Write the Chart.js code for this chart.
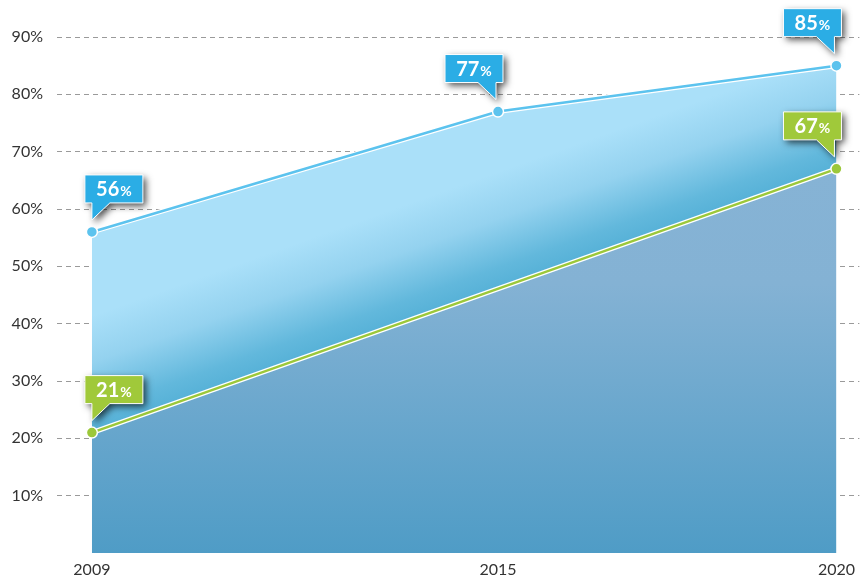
<!DOCTYPE html>
<html>
<head>
<meta charset="utf-8">
<script src="https://cdn.jsdelivr.net/npm/chart.js@4/dist/chart.umd.min.js"></script>
<style>
  html, body { margin: 0; padding: 0; background: #fff; }
  #wrap { width: 862px; height: 579px; position: relative; }
</style>
</head>
<body>
<div id="wrap"><canvas id="chart"></canvas></div>
<script>
// dữ liệu
const upperYears = [2009, 2015, 2020];
const upperValues = [56, 77, 85];
const lowerYears = [2009, 2020];
const lowerValues = [21, 67];
const xTickValues = [2009, 2015, 2020];
const yTickValues = [10, 20, 30, 40, 50, 60, 70, 80, 90];

const BLUE_LINE = '#5cc3ee';
const GREEN_LINE = '#9cc83a';
const BLUE_BOX = '#2badE5';
const GREEN_BOX = '#a0c93a';

const toPoints = (xs, ys) => xs.map((x, i) => ({ x: x, y: ys[i] }));

// gradient vùng trên: vuông góc với đường xanh lá
const upperFill = (context) => {
    const chart = context.chart;
    if (!chart.chartArea) return '#a9dff9';
    const sx = chart.scales.x, sy = chart.scales.y;
    const x0 = sx.getPixelForValue(lowerYears[0]), y0 = sy.getPixelForValue(lowerValues[0]);
    const x1 = sx.getPixelForValue(lowerYears[1]), y1 = sy.getPixelForValue(lowerValues[1]);
    const dx = x1 - x0, dy = y1 - y0;
    const len = Math.sqrt(dx * dx + dy * dy);
    let nx = dy / len, ny = -dx / len;
    if (ny > 0) { nx = -nx; ny = -ny; }
    const mx = (x0 + x1) / 2, my = (y0 + y1) / 2;
    const L = 110;
    const g = chart.ctx.createLinearGradient(mx, my, mx + nx * L, my + ny * L);
    g.addColorStop(0, '#56b1d7');
    g.addColorStop(0.18, '#62b8dc');
    g.addColorStop(0.6, '#94d2ef');
    g.addColorStop(1, '#aae0f9');
    return g;
};

// gradient vùng dưới: theo chiều dọc
const lowerFill = (context) => {
    const chart = context.chart;
    const area = chart.chartArea;
    if (!area) return '#80b1d3';
    const top = chart.scales.y.getPixelForValue(lowerValues[1]);
    const g = chart.ctx.createLinearGradient(0, top, 0, area.bottom);
    g.addColorStop(0, '#86b3d5');
    g.addColorStop(0.3, '#84b2d4');
    g.addColorStop(1, '#4f9cc6');
    return g;
};

// viền trắng dưới mỗi đường
const outlinePlugin = {
    id: 'outline',
    beforeDatasetDraw(chart, args) {
        const pts = args.meta.data;
        if (!pts.length) return;
        const ctx = chart.ctx;
        ctx.save();
        ctx.beginPath();
        ctx.moveTo(pts[0].x, pts[0].y);
        for (let i = 1; i < pts.length; i++) ctx.lineTo(pts[i].x, pts[i].y);
        ctx.strokeStyle = '#ffffff';
        ctx.lineWidth = 5;
        ctx.lineJoin = 'round';
        ctx.stroke();
        ctx.restore();
    }
};

const drawCallout = (ctx, px, py, value, color, side) => {
    const w = 58, h = 28;
    const bottom = py - 29, top = bottom - h;
    const tip = py - 12;
    const left = side === 'left' ? px - 7 : px + 5 - w;
    ctx.save();
    ctx.beginPath();
    if (side === 'left') {
        ctx.moveTo(left, top);
        ctx.lineTo(left + w, top);
        ctx.lineTo(left + w, bottom);
        ctx.lineTo(px + 18, bottom);
        ctx.lineTo(px, tip);
        ctx.lineTo(px, bottom);
        ctx.lineTo(left, bottom);
    } else {
        const edge = px - 2;
        ctx.moveTo(left, top);
        ctx.lineTo(left + w, top);
        ctx.lineTo(left + w, bottom);
        ctx.lineTo(edge, bottom);
        ctx.lineTo(edge, tip);
        ctx.lineTo(edge - 18, bottom);
        ctx.lineTo(left, bottom);
    }
    ctx.closePath();
    ctx.shadowColor = 'rgba(0,0,0,0.7)';
    ctx.shadowBlur = 7;
    ctx.shadowOffsetX = 3;
    ctx.shadowOffsetY = 3;
    ctx.fillStyle = color;
    ctx.fill();
    ctx.shadowColor = 'transparent';
    ctx.strokeStyle = '#ffffff';
    ctx.lineWidth = 1;
    ctx.stroke();

    const num = String(value);
    ctx.fillStyle = '#ffffff';
    ctx.textBaseline = 'alphabetic';
    ctx.font = 'bold 20px Lato';
    const wNum = ctx.measureText(num).width;
    ctx.font = 'bold 14px Lato';
    const wPct = ctx.measureText('%').width;
    const startX = left + (w - wNum - wPct - 1) / 2;
    const base = bottom - 7;
    ctx.font = 'bold 20px Lato';
    ctx.fillText(num, startX, base);
    ctx.font = 'bold 14px Lato';
    ctx.fillText('%', startX + wNum + 1, base);
    ctx.restore();
};

const calloutPlugin = {
    id: 'callouts',
    afterDatasetsDraw(chart) {
        const ctx = chart.ctx;
        chart.data.datasets.forEach((ds, i) => {
            const meta = chart.getDatasetMeta(i);
            meta.data.forEach((pt, j) => {
                const side = ds.data[j].x === xTickValues[0] ? 'left' : 'right';
                drawCallout(ctx, pt.x, pt.y, ds.data[j].y, ds.calloutColor, side);
            });
        });
    }
};

const ctx = document.getElementById('chart').getContext('2d');
const chart = new Chart(ctx, {
    type: 'line',
    data: {
        datasets: [
            {
                label: 'lower',
                data: toPoints(lowerYears, lowerValues),
                borderColor: GREEN_LINE,
                borderWidth: 2.5,
                backgroundColor: lowerFill,
                fill: 'origin',
                tension: 0,
                pointRadius: 5.5,
                pointBackgroundColor: GREEN_LINE,
                pointBorderColor: '#ffffff',
                pointBorderWidth: 1.5,
                calloutColor: GREEN_BOX
            },
            {
                label: 'upper',
                data: toPoints(upperYears, upperValues),
                borderColor: BLUE_LINE,
                borderWidth: 2.5,
                backgroundColor: upperFill,
                fill: { target: 0 },
                tension: 0,
                pointRadius: 5.5,
                pointBackgroundColor: BLUE_LINE,
                pointBorderColor: '#ffffff',
                pointBorderWidth: 1.5,
                calloutColor: BLUE_BOX
            }
        ]
    },
    options: {
        responsive: true,
        maintainAspectRatio: false,
        animation: false,
        layout: { autoPadding: false, padding: { top: 37, right: 0, left: 0, bottom: 0 } },
        plugins: {
            legend: { display: false },
            tooltip: { enabled: false },
            filler: { propagate: false }
        },
        scales: {
            x: {
                type: 'linear',
                min: 2008.4846,
                max: 2020.3387,
                afterBuildTicks: (scale) => {
                    scale.ticks = xTickValues.map(v => ({ value: v }));
                },
                afterFit: (scale) => { scale.height = 26; },
                grid: { display: false, drawTicks: false },
                border: { display: false },
                ticks: {
                    padding: 7,
                    maxRotation: 0,
                    autoSkip: false,
                    color: '#333333',
                    font: { family: 'Lato', size: 16 },
                    callback: (v) => String(v)
                }
            },
            y: {
                min: 0,
                max: 90,
                afterBuildTicks: (scale) => {
                    scale.ticks = [0].concat(yTickValues).map(v => ({ value: v }));
                },
                afterFit: (scale) => { scale.width = 57; },
                border: { display: false, dash: [5, 4] },
                grid: {
                    drawTicks: false,
                    lineWidth: 1,
                    color: (c) => c.tick && c.tick.value === 0 ? 'rgba(0,0,0,0)' : '#9a9a9a'
                },
                ticks: {
                    padding: 14,
                    color: '#333333',
                    font: { family: 'Lato', size: 16 },
                    callback: (v) => v === 0 ? '' : v + '%'
                }
            }
        }
    },
    plugins: [outlinePlugin, calloutPlugin]
});
</script>
</body>
</html>
